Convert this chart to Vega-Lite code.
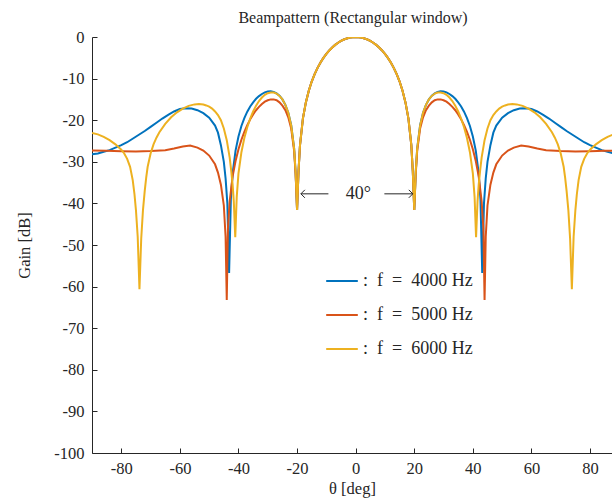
{
"$schema": "https://vega.github.io/schema/vega-lite/v6.json",
"width": 520, "height": 416,
"autosize": {"type": "none"},
"padding": {"left": 92, "top": 37, "right": 0, "bottom": 49},
"background": "white",
"config": {"view": {"stroke": null}, "font": "Liberation Serif"},
"title": {"text": "Beampattern (Rectangular window)", "fontSize": 16, "font": "Liberation Serif", "fontWeight": "normal", "color": "#262626", "offset": 3, "dx": 1},
"datasets": {
"c": [
{"f":4000,"t":0,"g":0},{"f":4000,"t":1,"g":-0.04},{"f":4000,"t":2,"g":-0.15},{"f":4000,"t":3,"g":-0.34},{"f":4000,"t":4,"g":-0.6},{"f":4000,"t":5,"g":-0.95},{"f":4000,"t":6,"g":-1.38},{"f":4000,"t":7,"g":-1.9},{"f":4000,"t":8,"g":-2.51},{"f":4000,"t":9,"g":-3.23},{"f":4000,"t":10,"g":-4.06},{"f":4000,"t":11,"g":-5.02},{"f":4000,"t":12,"g":-6.13},{"f":4000,"t":13,"g":-7.42},{"f":4000,"t":14,"g":-8.93},{"f":4000,"t":15,"g":-10.7},{"f":4000,"t":16,"g":-12.91},{"f":4000,"t":17,"g":-15.72},{"f":4000,"t":18,"g":-19.55},{"f":4000,"t":19,"g":-26},{"f":4000,"t":19.5,"g":-32.2},{"f":4000,"t":20,"g":-41.6},
{"f":4000,"t":-1,"g":-0.04},{"f":4000,"t":-2,"g":-0.15},{"f":4000,"t":-3,"g":-0.34},{"f":4000,"t":-4,"g":-0.6},{"f":4000,"t":-5,"g":-0.95},{"f":4000,"t":-6,"g":-1.38},{"f":4000,"t":-7,"g":-1.9},{"f":4000,"t":-8,"g":-2.51},{"f":4000,"t":-9,"g":-3.23},{"f":4000,"t":-10,"g":-4.06},{"f":4000,"t":-11,"g":-5.02},{"f":4000,"t":-12,"g":-6.13},{"f":4000,"t":-13,"g":-7.42},{"f":4000,"t":-14,"g":-8.93},{"f":4000,"t":-15,"g":-10.7},{"f":4000,"t":-16,"g":-12.91},{"f":4000,"t":-17,"g":-15.72},{"f":4000,"t":-18,"g":-19.55},{"f":4000,"t":-19,"g":-26},{"f":4000,"t":-19.5,"g":-32.2},{"f":4000,"t":-20,"g":-41.6},
{"f":4000,"t":20.5,"g":-32.6},{"f":4000,"t":21,"g":-26.8},{"f":4000,"t":22,"g":-21.2},{"f":4000,"t":23,"g":-18.2},{"f":4000,"t":24,"g":-16.3},{"f":4000,"t":25,"g":-15},{"f":4000,"t":26,"g":-14.1},{"f":4000,"t":27,"g":-13.55},{"f":4000,"t":28,"g":-13.2},{"f":4000,"t":29,"g":-13.05},{"f":4000,"t":30,"g":-13.1},{"f":4000,"t":31,"g":-13.3},{"f":4000,"t":32,"g":-13.7},{"f":4000,"t":33,"g":-14.2},{"f":4000,"t":34,"g":-14.85},{"f":4000,"t":35,"g":-15.7},{"f":4000,"t":36,"g":-16.7},{"f":4000,"t":37,"g":-17.95},{"f":4000,"t":38,"g":-19.5},{"f":4000,"t":39,"g":-21.4},{"f":4000,"t":40,"g":-23.9},{"f":4000,"t":41,"g":-27.3},{"f":4000,"t":42,"g":-32.8},{"f":4000,"t":42.6,"g":-39},{"f":4000,"t":43.2,"g":-56.7},{"f":4000,"t":43.8,"g":-40},{"f":4000,"t":44.4,"g":-34},{"f":4000,"t":45,"g":-30},{"f":4000,"t":46,"g":-26},{"f":4000,"t":47,"g":-23},{"f":4000,"t":48,"g":-21.3},{"f":4000,"t":50,"g":-19.4},{"f":4000,"t":52,"g":-18.3},{"f":4000,"t":54,"g":-17.6},{"f":4000,"t":56,"g":-17.2},{"f":4000,"t":58,"g":-17.1},{"f":4000,"t":60,"g":-17.3},{"f":4000,"t":62,"g":-17.9},{"f":4000,"t":64,"g":-18.7},{"f":4000,"t":66,"g":-19.6},{"f":4000,"t":68,"g":-20.6},{"f":4000,"t":70,"g":-21.6},{"f":4000,"t":72,"g":-22.6},{"f":4000,"t":74,"g":-23.5},{"f":4000,"t":76,"g":-24.4},{"f":4000,"t":78,"g":-25.3},{"f":4000,"t":80,"g":-26},{"f":4000,"t":82,"g":-26.6},{"f":4000,"t":84,"g":-27.2},{"f":4000,"t":86,"g":-27.6},{"f":4000,"t":88,"g":-28},{"f":4000,"t":90,"g":-28.2},
{"f":4000,"t":-20.5,"g":-32.6},{"f":4000,"t":-21,"g":-26.8},{"f":4000,"t":-22,"g":-21.2},{"f":4000,"t":-23,"g":-18.2},{"f":4000,"t":-24,"g":-16.3},{"f":4000,"t":-25,"g":-15},{"f":4000,"t":-26,"g":-14.1},{"f":4000,"t":-27,"g":-13.55},{"f":4000,"t":-28,"g":-13.2},{"f":4000,"t":-29,"g":-13.05},{"f":4000,"t":-30,"g":-13.1},{"f":4000,"t":-31,"g":-13.3},{"f":4000,"t":-32,"g":-13.7},{"f":4000,"t":-33,"g":-14.2},{"f":4000,"t":-34,"g":-14.85},{"f":4000,"t":-35,"g":-15.7},{"f":4000,"t":-36,"g":-16.7},{"f":4000,"t":-37,"g":-17.95},{"f":4000,"t":-38,"g":-19.5},{"f":4000,"t":-39,"g":-21.4},{"f":4000,"t":-40,"g":-23.9},{"f":4000,"t":-41,"g":-27.3},{"f":4000,"t":-42,"g":-32.8},{"f":4000,"t":-42.6,"g":-39},{"f":4000,"t":-43.2,"g":-56.7},{"f":4000,"t":-43.8,"g":-40},{"f":4000,"t":-44.4,"g":-34},{"f":4000,"t":-45,"g":-30},{"f":4000,"t":-46,"g":-26},{"f":4000,"t":-47,"g":-23},{"f":4000,"t":-48,"g":-21.3},{"f":4000,"t":-50,"g":-19.4},{"f":4000,"t":-52,"g":-18.3},{"f":4000,"t":-54,"g":-17.6},{"f":4000,"t":-56,"g":-17.2},{"f":4000,"t":-58,"g":-17.1},{"f":4000,"t":-60,"g":-17.3},{"f":4000,"t":-62,"g":-17.9},{"f":4000,"t":-64,"g":-18.7},{"f":4000,"t":-66,"g":-19.6},{"f":4000,"t":-68,"g":-20.6},{"f":4000,"t":-70,"g":-21.6},{"f":4000,"t":-72,"g":-22.6},{"f":4000,"t":-74,"g":-23.5},{"f":4000,"t":-76,"g":-24.4},{"f":4000,"t":-78,"g":-25.3},{"f":4000,"t":-80,"g":-26},{"f":4000,"t":-82,"g":-26.6},{"f":4000,"t":-84,"g":-27.2},{"f":4000,"t":-86,"g":-27.6},{"f":4000,"t":-88,"g":-28},{"f":4000,"t":-90,"g":-28.2},

{"f":5000,"t":0,"g":0},{"f":5000,"t":1,"g":-0.04},{"f":5000,"t":2,"g":-0.15},{"f":5000,"t":3,"g":-0.34},{"f":5000,"t":4,"g":-0.6},{"f":5000,"t":5,"g":-0.95},{"f":5000,"t":6,"g":-1.38},{"f":5000,"t":7,"g":-1.9},{"f":5000,"t":8,"g":-2.51},{"f":5000,"t":9,"g":-3.23},{"f":5000,"t":10,"g":-4.06},{"f":5000,"t":11,"g":-5.02},{"f":5000,"t":12,"g":-6.13},{"f":5000,"t":13,"g":-7.42},{"f":5000,"t":14,"g":-8.93},{"f":5000,"t":15,"g":-10.7},{"f":5000,"t":16,"g":-12.91},{"f":5000,"t":17,"g":-15.72},{"f":5000,"t":18,"g":-19.55},{"f":5000,"t":19,"g":-26},{"f":5000,"t":19.5,"g":-32.2},{"f":5000,"t":20,"g":-41.6},
{"f":5000,"t":-1,"g":-0.04},{"f":5000,"t":-2,"g":-0.15},{"f":5000,"t":-3,"g":-0.34},{"f":5000,"t":-4,"g":-0.6},{"f":5000,"t":-5,"g":-0.95},{"f":5000,"t":-6,"g":-1.38},{"f":5000,"t":-7,"g":-1.9},{"f":5000,"t":-8,"g":-2.51},{"f":5000,"t":-9,"g":-3.23},{"f":5000,"t":-10,"g":-4.06},{"f":5000,"t":-11,"g":-5.02},{"f":5000,"t":-12,"g":-6.13},{"f":5000,"t":-13,"g":-7.42},{"f":5000,"t":-14,"g":-8.93},{"f":5000,"t":-15,"g":-10.7},{"f":5000,"t":-16,"g":-12.91},{"f":5000,"t":-17,"g":-15.72},{"f":5000,"t":-18,"g":-19.55},{"f":5000,"t":-19,"g":-26},{"f":5000,"t":-19.5,"g":-32.2},{"f":5000,"t":-20,"g":-41.6},
{"f":5000,"t":20.5,"g":-33},{"f":5000,"t":21,"g":-27.4},{"f":5000,"t":22,"g":-22},{"f":5000,"t":23,"g":-19.3},{"f":5000,"t":24,"g":-17.6},{"f":5000,"t":25,"g":-16.5},{"f":5000,"t":26,"g":-15.7},{"f":5000,"t":27,"g":-15.2},{"f":5000,"t":28,"g":-15},{"f":5000,"t":29,"g":-15},{"f":5000,"t":30,"g":-15.2},{"f":5000,"t":31,"g":-15.55},{"f":5000,"t":32,"g":-16.1},{"f":5000,"t":33,"g":-16.8},{"f":5000,"t":34,"g":-17.6},{"f":5000,"t":35,"g":-18.6},{"f":5000,"t":36,"g":-19.8},{"f":5000,"t":37,"g":-21.2},{"f":5000,"t":38,"g":-22.8},{"f":5000,"t":39,"g":-24.7},{"f":5000,"t":40,"g":-27},{"f":5000,"t":41,"g":-29.8},{"f":5000,"t":42,"g":-33.5},{"f":5000,"t":43,"g":-39.5},{"f":5000,"t":43.6,"g":-46},{"f":5000,"t":44,"g":-63.2},{"f":5000,"t":44.4,"g":-48},{"f":5000,"t":45,"g":-40.5},{"f":5000,"t":46,"g":-35.5},{"f":5000,"t":47,"g":-32.6},{"f":5000,"t":48,"g":-30.6},{"f":5000,"t":50,"g":-28.5},{"f":5000,"t":52,"g":-27.3},{"f":5000,"t":54,"g":-26.6},{"f":5000,"t":56.5,"g":-26.1},{"f":5000,"t":59,"g":-26.3},{"f":5000,"t":62,"g":-26.8},{"f":5000,"t":65,"g":-27.2},{"f":5000,"t":70,"g":-27.4},{"f":5000,"t":75,"g":-27.5},{"f":5000,"t":80,"g":-27.45},{"f":5000,"t":85,"g":-27.35},{"f":5000,"t":90,"g":-27.3},
{"f":5000,"t":-20.5,"g":-33},{"f":5000,"t":-21,"g":-27.4},{"f":5000,"t":-22,"g":-22},{"f":5000,"t":-23,"g":-19.3},{"f":5000,"t":-24,"g":-17.6},{"f":5000,"t":-25,"g":-16.5},{"f":5000,"t":-26,"g":-15.7},{"f":5000,"t":-27,"g":-15.2},{"f":5000,"t":-28,"g":-15},{"f":5000,"t":-29,"g":-15},{"f":5000,"t":-30,"g":-15.2},{"f":5000,"t":-31,"g":-15.55},{"f":5000,"t":-32,"g":-16.1},{"f":5000,"t":-33,"g":-16.8},{"f":5000,"t":-34,"g":-17.6},{"f":5000,"t":-35,"g":-18.6},{"f":5000,"t":-36,"g":-19.8},{"f":5000,"t":-37,"g":-21.2},{"f":5000,"t":-38,"g":-22.8},{"f":5000,"t":-39,"g":-24.7},{"f":5000,"t":-40,"g":-27},{"f":5000,"t":-41,"g":-29.8},{"f":5000,"t":-42,"g":-33.5},{"f":5000,"t":-43,"g":-39.5},{"f":5000,"t":-43.6,"g":-46},{"f":5000,"t":-44,"g":-63.2},{"f":5000,"t":-44.4,"g":-48},{"f":5000,"t":-45,"g":-40.5},{"f":5000,"t":-46,"g":-35.5},{"f":5000,"t":-47,"g":-32.6},{"f":5000,"t":-48,"g":-30.6},{"f":5000,"t":-50,"g":-28.5},{"f":5000,"t":-52,"g":-27.3},{"f":5000,"t":-54,"g":-26.6},{"f":5000,"t":-56.5,"g":-26.1},{"f":5000,"t":-59,"g":-26.3},{"f":5000,"t":-62,"g":-26.8},{"f":5000,"t":-65,"g":-27.2},{"f":5000,"t":-70,"g":-27.4},{"f":5000,"t":-75,"g":-27.5},{"f":5000,"t":-80,"g":-27.45},{"f":5000,"t":-85,"g":-27.35},{"f":5000,"t":-90,"g":-27.3},

{"f":6000,"t":0,"g":0},{"f":6000,"t":1,"g":-0.04},{"f":6000,"t":2,"g":-0.15},{"f":6000,"t":3,"g":-0.34},{"f":6000,"t":4,"g":-0.6},{"f":6000,"t":5,"g":-0.95},{"f":6000,"t":6,"g":-1.38},{"f":6000,"t":7,"g":-1.9},{"f":6000,"t":8,"g":-2.51},{"f":6000,"t":9,"g":-3.23},{"f":6000,"t":10,"g":-4.06},{"f":6000,"t":11,"g":-5.02},{"f":6000,"t":12,"g":-6.13},{"f":6000,"t":13,"g":-7.42},{"f":6000,"t":14,"g":-8.93},{"f":6000,"t":15,"g":-10.7},{"f":6000,"t":16,"g":-12.91},{"f":6000,"t":17,"g":-15.72},{"f":6000,"t":18,"g":-19.55},{"f":6000,"t":19,"g":-26},{"f":6000,"t":19.5,"g":-32.2},{"f":6000,"t":20,"g":-41.6},
{"f":6000,"t":-1,"g":-0.04},{"f":6000,"t":-2,"g":-0.15},{"f":6000,"t":-3,"g":-0.34},{"f":6000,"t":-4,"g":-0.6},{"f":6000,"t":-5,"g":-0.95},{"f":6000,"t":-6,"g":-1.38},{"f":6000,"t":-7,"g":-1.9},{"f":6000,"t":-8,"g":-2.51},{"f":6000,"t":-9,"g":-3.23},{"f":6000,"t":-10,"g":-4.06},{"f":6000,"t":-11,"g":-5.02},{"f":6000,"t":-12,"g":-6.13},{"f":6000,"t":-13,"g":-7.42},{"f":6000,"t":-14,"g":-8.93},{"f":6000,"t":-15,"g":-10.7},{"f":6000,"t":-16,"g":-12.91},{"f":6000,"t":-17,"g":-15.72},{"f":6000,"t":-18,"g":-19.55},{"f":6000,"t":-19,"g":-26},{"f":6000,"t":-19.5,"g":-32.2},{"f":6000,"t":-20,"g":-41.6},
{"f":6000,"t":20.5,"g":-32.4},{"f":6000,"t":21,"g":-26.8},{"f":6000,"t":22,"g":-21.3},{"f":6000,"t":23,"g":-18.2},{"f":6000,"t":24,"g":-16.3},{"f":6000,"t":25,"g":-15},{"f":6000,"t":26,"g":-14.15},{"f":6000,"t":27,"g":-13.6},{"f":6000,"t":28,"g":-13.35},{"f":6000,"t":29,"g":-13.32},{"f":6000,"t":30,"g":-13.5},{"f":6000,"t":31,"g":-13.9},{"f":6000,"t":32,"g":-14.55},{"f":6000,"t":33,"g":-15.4},{"f":6000,"t":34,"g":-16.5},{"f":6000,"t":35,"g":-17.9},{"f":6000,"t":36,"g":-19.6},{"f":6000,"t":37,"g":-21.7},{"f":6000,"t":38,"g":-24.3},{"f":6000,"t":39,"g":-27.7},{"f":6000,"t":40,"g":-32.8},{"f":6000,"t":40.6,"g":-38.5},{"f":6000,"t":41.1,"g":-48.1},{"f":6000,"t":41.6,"g":-39.5},{"f":6000,"t":42,"g":-35.5},{"f":6000,"t":42.5,"g":-32},{"f":6000,"t":43,"g":-29},{"f":6000,"t":44,"g":-24.8},{"f":6000,"t":45,"g":-22},{"f":6000,"t":46,"g":-20},{"f":6000,"t":47,"g":-18.75},{"f":6000,"t":48,"g":-17.9},{"f":6000,"t":49,"g":-17.2},{"f":6000,"t":50,"g":-16.75},{"f":6000,"t":51,"g":-16.45},{"f":6000,"t":52,"g":-16.25},{"f":6000,"t":53.5,"g":-16.1},{"f":6000,"t":55,"g":-16.2},{"f":6000,"t":57,"g":-16.55},{"f":6000,"t":59,"g":-17.2},{"f":6000,"t":61,"g":-18.1},{"f":6000,"t":63,"g":-19.3},{"f":6000,"t":65,"g":-20.9},{"f":6000,"t":67,"g":-22.9},{"f":6000,"t":68,"g":-24.2},{"f":6000,"t":69,"g":-25.8},{"f":6000,"t":70,"g":-28},{"f":6000,"t":71,"g":-31.2},{"f":6000,"t":71.5,"g":-33.8},{"f":6000,"t":72,"g":-37},{"f":6000,"t":72.6,"g":-41.6},{"f":6000,"t":73.2,"g":-48.5},{"f":6000,"t":73.8,"g":-60.6},{"f":6000,"t":74.4,"g":-48},{"f":6000,"t":75,"g":-41.6},{"f":6000,"t":75.5,"g":-37.8},{"f":6000,"t":76.1,"g":-34.4},{"f":6000,"t":77,"g":-31.2},{"f":6000,"t":78,"g":-29.3},{"f":6000,"t":79,"g":-28},{"f":6000,"t":80,"g":-27.1},{"f":6000,"t":82,"g":-25.8},{"f":6000,"t":84,"g":-24.8},{"f":6000,"t":86,"g":-24},{"f":6000,"t":88,"g":-23.4},{"f":6000,"t":90,"g":-23.1},
{"f":6000,"t":-20.5,"g":-32.4},{"f":6000,"t":-21,"g":-26.8},{"f":6000,"t":-22,"g":-21.3},{"f":6000,"t":-23,"g":-18.2},{"f":6000,"t":-24,"g":-16.3},{"f":6000,"t":-25,"g":-15},{"f":6000,"t":-26,"g":-14.15},{"f":6000,"t":-27,"g":-13.6},{"f":6000,"t":-28,"g":-13.35},{"f":6000,"t":-29,"g":-13.32},{"f":6000,"t":-30,"g":-13.5},{"f":6000,"t":-31,"g":-13.9},{"f":6000,"t":-32,"g":-14.55},{"f":6000,"t":-33,"g":-15.4},{"f":6000,"t":-34,"g":-16.5},{"f":6000,"t":-35,"g":-17.9},{"f":6000,"t":-36,"g":-19.6},{"f":6000,"t":-37,"g":-21.7},{"f":6000,"t":-38,"g":-24.3},{"f":6000,"t":-39,"g":-27.7},{"f":6000,"t":-40,"g":-32.8},{"f":6000,"t":-40.6,"g":-38.5},{"f":6000,"t":-41.1,"g":-48.1},{"f":6000,"t":-41.6,"g":-39.5},{"f":6000,"t":-42,"g":-35.5},{"f":6000,"t":-42.5,"g":-32},{"f":6000,"t":-43,"g":-29},{"f":6000,"t":-44,"g":-24.8},{"f":6000,"t":-45,"g":-22},{"f":6000,"t":-46,"g":-20},{"f":6000,"t":-47,"g":-18.75},{"f":6000,"t":-48,"g":-17.9},{"f":6000,"t":-49,"g":-17.2},{"f":6000,"t":-50,"g":-16.75},{"f":6000,"t":-51,"g":-16.45},{"f":6000,"t":-52,"g":-16.25},{"f":6000,"t":-53.5,"g":-16.1},{"f":6000,"t":-55,"g":-16.2},{"f":6000,"t":-57,"g":-16.55},{"f":6000,"t":-59,"g":-17.2},{"f":6000,"t":-61,"g":-18.1},{"f":6000,"t":-63,"g":-19.3},{"f":6000,"t":-65,"g":-20.9},{"f":6000,"t":-67,"g":-22.9},{"f":6000,"t":-68,"g":-24.2},{"f":6000,"t":-69,"g":-25.8},{"f":6000,"t":-70,"g":-28},{"f":6000,"t":-71,"g":-31.2},{"f":6000,"t":-71.5,"g":-33.8},{"f":6000,"t":-72,"g":-37},{"f":6000,"t":-72.6,"g":-41.6},{"f":6000,"t":-73.2,"g":-48.5},{"f":6000,"t":-73.8,"g":-60.6},{"f":6000,"t":-74.4,"g":-48},{"f":6000,"t":-75,"g":-41.6},{"f":6000,"t":-75.5,"g":-37.8},{"f":6000,"t":-76.1,"g":-34.4},{"f":6000,"t":-77,"g":-31.2},{"f":6000,"t":-78,"g":-29.3},{"f":6000,"t":-79,"g":-28},{"f":6000,"t":-80,"g":-27.1},{"f":6000,"t":-82,"g":-25.8},{"f":6000,"t":-84,"g":-24.8},{"f":6000,"t":-86,"g":-24},{"f":6000,"t":-88,"g":-23.4},{"f":6000,"t":-90,"g":-23.1}
],
"arr": [{"x1": -18.7, "x2": -9.3, "y": -37.7}, {"x1": 9.8, "x2": 19.5, "y": -37.7}],
"hl": [{"x": -18.7, "y": -37.7}],
"hr": [{"x": 19.5, "y": -37.7}],
"lab": [{"x": 0.9, "y": -37.7, "s": "40°"}]
},
"layer": [
{"data": {"name": "c"},
 "mark": {"type": "line", "strokeWidth": 2, "clip": true},
 "encoding": {
  "x": {"field": "t", "type": "quantitative",
   "scale": {"domain": [-90, 87.5], "nice": false, "zero": false},
   "axis": {"values": [-80,-60,-40,-20,0,20,40,60,80], "grid": false, "tickSize": -5, "labelPadding": 12,
     "labelExpr": "replace(datum.label, '−', '-')",
     "domainColor": "#262626", "tickColor": "#262626", "labelColor": "#262626",
     "labelFont": "Liberation Serif", "labelFontSize": 16.5,
     "title": "θ [deg]", "titleFont": "Liberation Serif", "titleFontSize": 16.5, "titleFontWeight": "normal", "titleColor": "#262626", "titlePadding": 4}},
  "y": {"field": "g", "type": "quantitative",
   "scale": {"domain": [-100, 0], "nice": false, "zero": false},
   "axis": {"values": [-100,-90,-80,-70,-60,-50,-40,-30,-20,-10,0], "grid": false, "tickSize": -5, "labelPadding": 13,
     "labelExpr": "replace(datum.label, '−', '-')",
     "domainColor": "#262626", "tickColor": "#262626", "labelColor": "#262626",
     "labelFont": "Liberation Serif", "labelFontSize": 16.5,
     "title": "Gain [dB]", "titleFont": "Liberation Serif", "titleFontSize": 16.5, "titleFontWeight": "normal", "titleColor": "#262626", "titlePadding": 21}},
  "color": {"field": "f", "type": "nominal",
   "scale": {"domain": [4000, 5000, 6000], "range": ["#0072BD", "#D95319", "#EDB120"]},
   "legend": {"orient": "none", "legendX": 233, "legendY": 227, "title": null,
     "labelExpr": "':\u2002f\u2002=\u2002' + datum.label + ' Hz'",
     "labelFont": "Liberation Serif", "labelFontSize": 18, "labelColor": "#262626",
     "symbolSize": 1000, "symbolStrokeWidth": 2, "rowPadding": 8, "labelOffset": 4, "padding": 0}}
 }},
{"data": {"name": "arr"}, "mark": {"type": "rule", "color": "#262626", "strokeWidth": 1},
 "encoding": {"x": {"field": "x1", "type": "quantitative"}, "x2": {"field": "x2"}, "y": {"field": "y", "type": "quantitative"}}},
{"data": {"name": "hl"}, "mark": {"type": "point", "shape": "M0,0L1,-1M0,0L1,1", "size": 64, "stroke": "#262626", "strokeWidth": 1, "filled": false, "opacity": 1},
 "encoding": {"x": {"field": "x", "type": "quantitative"}, "y": {"field": "y", "type": "quantitative"}}},
{"data": {"name": "hr"}, "mark": {"type": "point", "shape": "M0,0L-1,-1M0,0L-1,1", "size": 64, "stroke": "#262626", "strokeWidth": 1, "filled": false, "opacity": 1},
 "encoding": {"x": {"field": "x", "type": "quantitative"}, "y": {"field": "y", "type": "quantitative"}}},
{"data": {"name": "lab"}, "mark": {"type": "text", "font": "Liberation Serif", "fontSize": 18, "color": "#262626", "align": "center", "baseline": "middle"},
 "encoding": {"x": {"field": "x", "type": "quantitative"}, "y": {"field": "y", "type": "quantitative"}, "text": {"field": "s"}}}
]
}
